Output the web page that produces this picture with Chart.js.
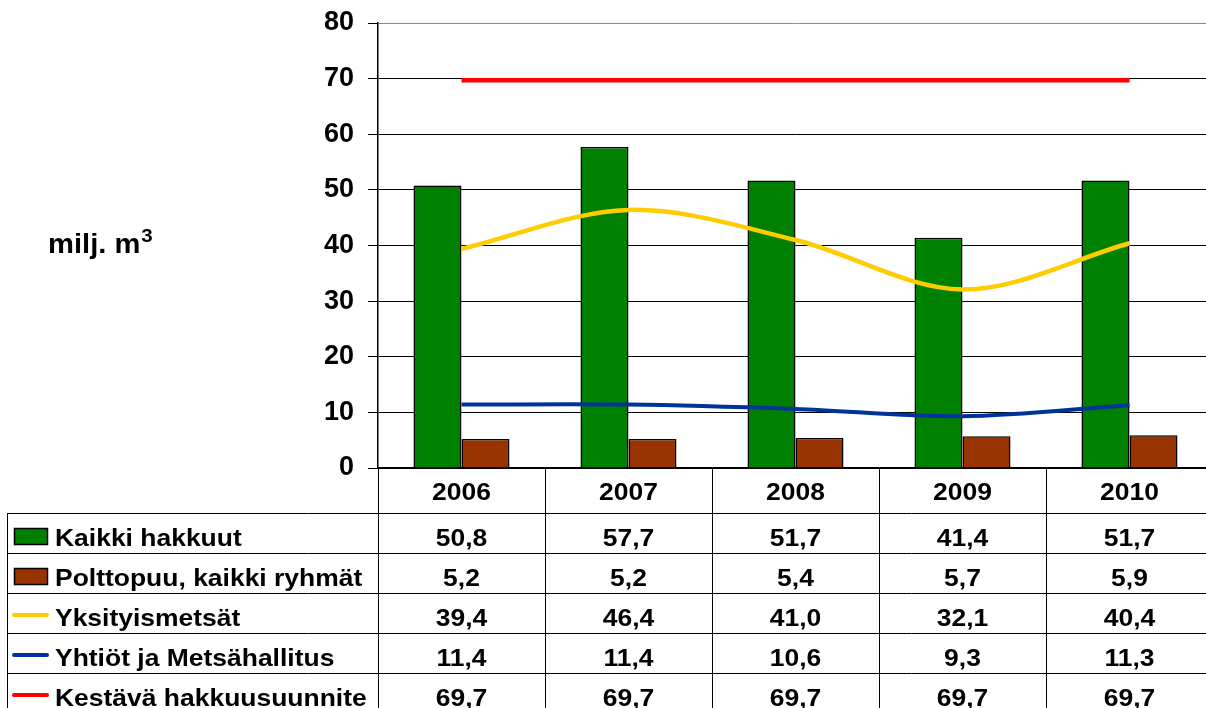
<!DOCTYPE html>
<html>
<head>
<meta charset="utf-8">
<script src="https://cdn.jsdelivr.net/npm/chart.js@4/dist/chart.umd.min.js"></script>
<style>
html,body{margin:0;padding:0;background:#fff;overflow:hidden}
#wrap{width:1206px;height:708px;overflow:hidden;position:relative}
</style>
</head>
<body>
<div id="wrap"><canvas id="c" width="1214" height="708"></canvas></div>
<script>
// ---- data ----
const years = ['2006', '2007', '2008', '2009', '2010'];
const kaikkiHakkuut = [50.8, 57.7, 51.7, 41.4, 51.7];
const polttopuu = [5.2, 5.2, 5.4, 5.7, 5.9];
const yksityismetsat = [39.4, 46.4, 41.0, 32.1, 40.4];
const yhtiot = [11.4, 11.4, 10.6, 9.3, 11.3];
const kestava = [69.7, 69.7, 69.7, 69.7, 69.7];
const seriesNames = ['Kaikki hakkuut', 'Polttopuu, kaikki ryhmät', 'Yksityismetsät', 'Yhtiöt ja Metsähallitus', 'Kestävä hakkuusuunnite'];
const yMin = 0, yMax = 80, yStep = 10;
const yUnit = 'milj. m';
const yUnitSup = '3';

const FONT = "'Liberation Sans', Arial, sans-serif";
const STRETCH = 1.08;

function drawText(ctx, txt, x, y, size, align) {
  ctx.save();
  ctx.font = 'bold ' + size + 'px ' + FONT;
  ctx.textAlign = align;
  ctx.textBaseline = 'alphabetic';
  ctx.fillStyle = '#000';
  ctx.translate(x, y);
  ctx.scale(STRETCH, 1);
  ctx.fillText(txt, 0, 0);
  ctx.restore();
}

const tablePlugin = {
  id: 'dataTable',
  afterDraw(chart) {
    const ctx = chart.ctx;
    const xs = chart.scales.x;
    const area = chart.chartArea;
    const n = years.length;
    const colW = (area.right - area.left) / n;
    const top = area.bottom;
    const headerH = 45, rowH = 40;
    const tableLeft = 7;
    const H = chart.height;
    const datasets = chart.data.datasets;
    const rows = [0, 1, 2, 3, 4];

    ctx.save();
    ctx.strokeStyle = '#000';
    ctx.lineWidth = 1;
    for (let j = 0; j < rows.length; j++) {
      const y = Math.round(top + headerH + j * rowH) + 0.5;
      ctx.beginPath();
      ctx.moveTo(tableLeft, y);
      ctx.lineTo(area.right, y);
      ctx.stroke();
    }
    ctx.beginPath();
    ctx.moveTo(tableLeft + 0.5, top + headerH);
    ctx.lineTo(tableLeft + 0.5, H);
    ctx.stroke();
    for (let k = 0; k <= n; k++) {
      const x = Math.round(area.left + k * colW) + 0.5;
      ctx.beginPath();
      ctx.moveTo(x, top);
      ctx.lineTo(x, H);
      ctx.stroke();
    }
    ctx.restore();

    years.forEach((yr, i) => {
      const cx = xs.getPixelForTick(i);
      drawText(ctx, yr, cx, top + 32, 24.5, 'center');
    });

    rows.forEach((di, j) => {
      const ds = datasets[di];
      const rowTop = top + headerH + j * rowH;
      const base = rowTop + 33;
      ctx.save();
      if (ds.type === 'bar') {
        ctx.fillStyle = ds.backgroundColor;
        ctx.fillRect(14, rowTop + 15, 34, 17);
        ctx.strokeStyle = '#000';
        ctx.lineWidth = 1.5;
        ctx.strokeRect(14.5, rowTop + 15.5, 33, 16);
      } else {
        ctx.strokeStyle = ds.borderColor;
        ctx.lineWidth = 4;
        ctx.lineCap = 'round';
        ctx.beginPath();
        ctx.moveTo(14, rowTop + 22);
        ctx.lineTo(47, rowTop + 22);
        ctx.stroke();
      }
      ctx.restore();
      drawText(ctx, ds.label, 55, base, 24.5, 'left');
      ds.data.forEach((v, i) => {
        const cx = xs.getPixelForTick(i);
        drawText(ctx, v.toFixed(1).replace('.', ','), cx, base, 24.5, 'center');
      });
    });

    drawText(ctx, yUnit, 48, 253, 27, 'left');
    ctx.save();
    ctx.font = 'bold 27px ' + FONT;
    const w = ctx.measureText(yUnit).width * STRETCH;
    ctx.restore();
    drawText(ctx, yUnitSup, 48 + w + 1, 242, 19, 'left');
  }
};

new Chart(document.getElementById('c'), {
  type: 'bar',
  data: {
    labels: years,
    datasets: [
      { type: 'bar', label: seriesNames[0], data: kaikkiHakkuut, backgroundColor: '#008000', borderColor: '#000', borderWidth: 1.5, order: 2 },
      { type: 'bar', label: seriesNames[1], data: polttopuu, backgroundColor: '#993300', borderColor: '#000', borderWidth: 1.5, order: 2 },
      { type: 'line', label: seriesNames[2], data: yksityismetsat, borderColor: '#FFCC00', borderWidth: 4.5, pointRadius: 0, tension: 0.33, fill: false, order: 1 },
      { type: 'line', label: seriesNames[3], data: yhtiot, borderColor: '#003399', borderWidth: 4, pointRadius: 0, tension: 0.33, fill: false, order: 1 },
      { type: 'line', label: seriesNames[4], data: kestava, borderColor: '#FF0000', borderWidth: 4.5, pointRadius: 0, tension: 0, fill: false, order: 1 }
    ]
  },
  options: {
    responsive: false,
    animation: false,
    devicePixelRatio: 1,
    layout: { padding: { top: 23, right: 1, left: 0, bottom: 0 } },
    datasets: { bar: { barPercentage: 1, categoryPercentage: 0.575 } },
    plugins: { legend: { display: false }, tooltip: { enabled: false }, title: { display: false } },
    scales: {
      x: {
        grid: { display: false },
        ticks: { display: false },
        border: { display: true, color: '#000', width: 1.5 },
        afterFit(s) { s.height = 240; s.paddingLeft = 0; s.paddingRight = 0; }
      },
      y: {
        min: yMin, max: yMax,
        ticks: {
          stepSize: yStep,
          padding: 14,
          color: '#000',
          font: { family: FONT, size: 27, weight: 'bold' }
        },
        grid: {
          color: (c) => (c.tick && c.tick.value === yMax) ? '#8a8a8a' : '#000',
          tickColor: '#000',
          tickLength: 10,
          lineWidth: 1
        },
        border: { display: true, color: '#000', width: 1.5 },
        afterFit(s) { s.width = 378; s.paddingTop = 0; s.paddingBottom = 0; }
      }
    }
  },
  plugins: [tablePlugin]
});
</script>
</body>
</html>
